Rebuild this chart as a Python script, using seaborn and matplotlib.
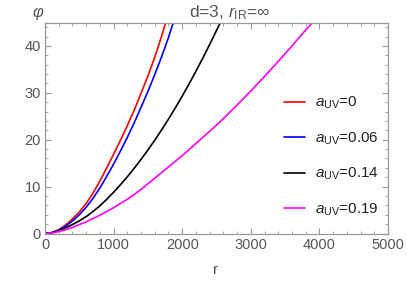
import numpy as np
import pandas as pd
import matplotlib
matplotlib.use("Agg")
import matplotlib.pyplot as plt
from matplotlib.ticker import MultipleLocator
import seaborn as sns

# ---- data ----
r_red = [0, 100, 200, 300, 400, 500, 600, 700, 800, 900, 1000, 1100, 1200, 1300, 1400, 1500, 1600, 1700, 1760]
phi_red = [0, 0.2, 0.8, 1.8, 3.1, 4.6, 6.4, 8.6, 11.2, 14.0, 16.9, 19.9, 23.0, 26.3, 29.9, 33.6, 37.6, 42.1, 45.0]

r_blue = [0, 100, 200, 300, 400, 500, 600, 700, 800, 900, 1000, 1100, 1200, 1300, 1400, 1500, 1600, 1700, 1800, 1870]
phi_blue = [0, 0.18, 0.72, 1.55, 2.65, 4.0, 5.6, 7.5, 9.7, 12.2, 14.8, 17.6, 20.5, 23.6, 26.9, 30.3, 33.9, 37.7, 41.8, 45.0]

r_black = [0, 100, 200, 300, 400, 500, 600, 700, 800, 900, 1000, 1100, 1200, 1300, 1400, 1500, 1600, 1700, 1800, 1900, 2000, 2100, 2200, 2300, 2400, 2500, 2560]
phi_black = [0, 0.15, 0.6, 1.2, 1.9, 2.7, 3.6, 4.7, 5.9, 7.3, 8.8, 10.4, 12.1, 13.9, 15.8, 17.8, 19.9, 22.1, 24.4, 26.8, 29.3, 31.9, 34.6, 37.4, 40.3, 43.3, 45.1]

r_mag = [0, 100, 200, 300, 400, 500, 600, 700, 800, 900, 1000, 1100, 1200, 1300, 1400, 1500, 1600, 1700, 1800, 1900, 2000, 2200, 2400, 2600, 2800, 3000, 3200, 3400, 3600, 3800, 3900]
phi_mag = [0, 0.1, 0.4, 0.8, 1.3, 1.9, 2.5, 3.2, 3.9, 4.7, 5.5, 6.4, 7.3, 8.3, 9.4, 10.6, 11.8, 13.0, 14.2, 15.4, 16.6, 19.2, 21.8, 24.5, 27.4, 30.4, 33.5, 36.7, 40.0, 43.4, 45.0]

labels = [r"$a_{\mathrm{UV}}$=0", r"$a_{\mathrm{UV}}$=0.06", r"$a_{\mathrm{UV}}$=0.14", r"$a_{\mathrm{UV}}$=0.19"]
colors = ["#ff0000", "#0000ff", "#000000", "#ff00ff"]

x_ticks = [0, 1000, 2000, 3000, 4000, 5000]
y_ticks = [0, 10, 20, 30, 40]

frames = []
for lab, rr, pp in zip(labels, [r_red, r_blue, r_black, r_mag], [phi_red, phi_blue, phi_black, phi_mag]):
    frames.append(pd.DataFrame({"r": rr, "phi": pp, "series": lab}))
df = pd.concat(frames, ignore_index=True)

sns.set_style("white")
plt.rcParams["font.family"] = ["Liberation Sans", "DejaVu Sans"]
plt.rcParams["mathtext.fontset"] = "custom"
plt.rcParams["mathtext.rm"] = "Liberation Sans"
plt.rcParams["mathtext.it"] = "Liberation Sans:italic"

fig = plt.figure(figsize=(4.07, 2.82), dpi=100)
ax = fig.add_axes([45 / 407, 1 - 233.5 / 282, 343 / 407, 211 / 282])

sns.lineplot(data=df, x="r", y="phi", hue="series", palette=colors, hue_order=labels,
             estimator=None, sort=False, ax=ax, linewidth=1.2)

ax.set_xlim(0, 5000)
ax.set_ylim(0, 45)
ax.set_xticks(x_ticks)
ax.set_yticks(y_ticks)
ax.xaxis.set_minor_locator(MultipleLocator(200))
ax.yaxis.set_minor_locator(MultipleLocator(2))
ax.tick_params(which="both", direction="in", top=True, right=True, bottom=True, left=True,
               colors="#999999", labelcolor="#555555", labelsize=10.5)
ax.tick_params(which="major", length=4, width=0.8)
ax.tick_params(which="minor", length=2, width=0.6)
ax.tick_params(axis="x", pad=3)
ax.tick_params(axis="y", pad=3)
for s in ax.spines.values():
    s.set_color("#999999")
    s.set_linewidth(0.9)
ax.set_xlabel("")
ax.set_ylabel("")

fig.text(216 / 407, 1 - 270 / 282, "r", ha="center", va="center", color="#555555", fontsize=11)
fig.text(38 / 407, 1 - 14 / 282, r"$\varphi$", ha="center", va="center", color="#555555", fontsize=12)
fig.text(230 / 407, 1 - 13 / 282, r"d=3, $r_{\mathrm{IR}}$=∞", ha="center", va="center",
         color="#555555", fontsize=12.5)

leg = ax.legend(loc="upper left", bbox_to_anchor=(284 / 407, 1 - 95 / 282),
                bbox_transform=fig.transFigure, frameon=False, fontsize=11,
                handlelength=1.4, handletextpad=0.6, labelspacing=1.25,
                borderpad=0, borderaxespad=0)
for t in leg.get_texts():
    t.set_color("#222222")

fig.savefig("out.png", dpi=100)
